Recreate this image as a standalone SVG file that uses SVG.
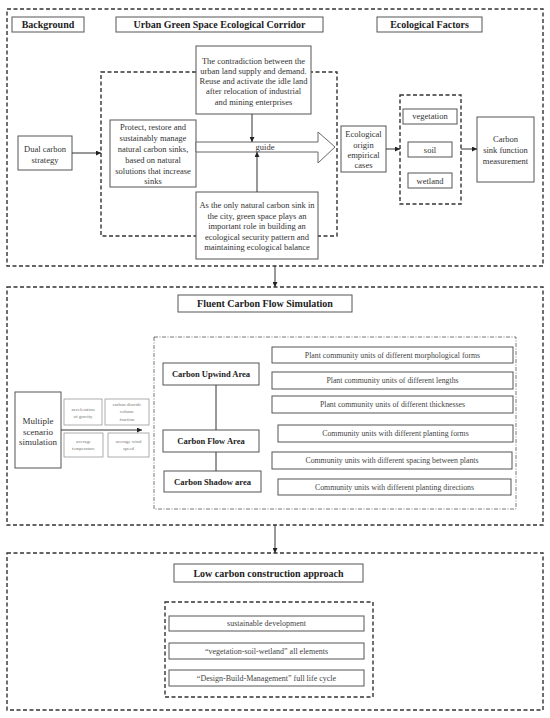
<svg xmlns="http://www.w3.org/2000/svg" width="550" height="718" viewBox="0 0 550 718">
<defs>
<marker id="ah" viewBox="0 0 8 8" refX="8" refY="4" markerWidth="5" markerHeight="5" orient="auto" markerUnits="userSpaceOnUse">
<path d="M0,0 L8,4 L0,8 Z" fill="#222"/>
</marker>
<style>
.sec{fill:none;stroke:#333;stroke-width:1.4;stroke-dasharray:4,2.5}
.dd{fill:none;stroke:#555;stroke-width:0.8;stroke-dasharray:4,1.5,1,1.5}
.box{fill:#fff;stroke:#555;stroke-width:1}
.sbox{fill:#fff;stroke:#999;stroke-width:0.8}
.hd{font-family:"Liberation Serif","Times New Roman",serif;font-weight:bold;font-size:10px;fill:#222;text-anchor:middle}
.bd{font-family:"Liberation Serif","Times New Roman",serif;font-weight:bold;font-size:8.5px;fill:#222;text-anchor:middle}
.t{font-family:"Liberation Serif","Times New Roman",serif;font-size:8.5px;fill:#333;text-anchor:middle}
.t2{font-family:"Liberation Serif","Times New Roman",serif;font-size:7.8px;fill:#444;text-anchor:middle}
.ts{font-family:"Liberation Serif","Times New Roman",serif;font-size:4.8px;fill:#777;text-anchor:middle}
.ln{fill:none;stroke:#333;stroke-width:1}
</style>
</defs>
<rect width="550" height="718" fill="#fff"/>

<g id="section1">
<rect class="sec" x="7" y="9" width="536" height="257"/>
<rect class="sec" x="101" y="72" width="236" height="164"/>
<rect class="sec" x="400" y="95" width="61" height="109"/>
</g>
<g id="hdr-background"><rect class="box" x="12" y="17" width="72" height="15"/><text class="hd" x="48" y="28">Background</text></g>
<g id="hdr-corridor"><rect class="box" x="116" y="17" width="207" height="15"/><text class="hd" x="219.5" y="28">Urban Green Space Ecological Corridor</text></g>
<g id="hdr-factors"><rect class="box" x="377" y="17" width="105" height="15"/><text class="hd" x="429.5" y="28">Ecological Factors</text></g>

<g id="dual-carbon"><rect class="box" x="18" y="136" width="54" height="34"/>
<text class="t" x="45" y="152">Dual carbon</text><text class="t" x="45" y="163">strategy</text></g>

<g id="protect"><rect class="box" x="110" y="120" width="86" height="67"/>
<text class="t" x="153" y="130">Protect, restore and</text>
<text class="t" x="153" y="141">sustainably manage</text>
<text class="t" x="153" y="152">natural carbon sinks,</text>
<text class="t" x="153" y="163">based on natural</text>
<text class="t" x="153" y="174">solutions that increase</text>
<text class="t" x="153" y="184">sinks</text></g>

<g id="contradiction"><rect class="box" x="196" y="46" width="115" height="68"/>
<text class="t" x="253.5" y="64">The contradiction between the</text>
<text class="t" x="253.5" y="74">urban land supply and demand.</text>
<text class="t" x="253.5" y="84">Reuse and activate the idle land</text>
<text class="t" x="253.5" y="94">after relocation of industrial</text>
<text class="t" x="253.5" y="105">and mining enterprises</text></g>

<g id="only-sink"><rect class="box" x="196" y="192" width="122" height="67"/>
<text class="t" x="257" y="208">As the only natural carbon sink in</text>
<text class="t" x="257" y="219">the city, green space plays an</text>
<text class="t" x="257" y="229">important role in building an</text>
<text class="t" x="257" y="240">ecological security pattern and</text>
<text class="t" x="257" y="250">maintaining ecological balance</text></g>

<g id="guide"><polygon points="196,142 318,142 318,132 335,147 318,163 318,152 196,152" fill="#fff" stroke="#666" stroke-width="1"/>
<text class="t" x="265" y="150">guide</text></g>

<g id="eco-origin"><rect class="box" x="341" y="126" width="45" height="46"/>
<text class="t" x="363.5" y="137">Ecological</text><text class="t" x="363.5" y="148">origin</text>
<text class="t" x="363.5" y="158">empirical</text><text class="t" x="363.5" y="168">cases</text></g>

<g id="vegetation"><rect class="box" x="403" y="109" width="54" height="15"/><text class="t" x="430" y="119">vegetation</text></g>
<g id="soil"><rect class="box" x="408" y="142" width="44" height="15"/><text class="t" x="430" y="152.5">soil</text></g>
<g id="wetland"><rect class="box" x="408" y="173" width="44" height="15"/><text class="t" x="430" y="183.5">wetland</text></g>

<g id="carbon-sink"><rect class="box" x="477" y="117" width="57" height="65"/>
<text class="t" x="505.5" y="142">Carbon</text><text class="t" x="505.5" y="153">sink function</text><text class="t" x="505.5" y="164">measurement</text></g>

<g id="section2">
<rect class="sec" x="7" y="287" width="536" height="238"/>
<rect class="dd" x="154" y="337" width="362" height="172"/>
</g>
<g id="hdr-fluent"><rect class="box" x="178" y="295" width="174" height="17"/><text class="hd" x="265" y="307">Fluent Carbon Flow Simulation</text></g>

<g id="multiple"><rect class="box" x="15" y="392" width="46" height="76"/>
<text class="t" x="38" y="424" style="font-size:9px">Multiple</text>
<text class="t" x="38" y="435" style="font-size:9px">scenario</text>
<text class="t" x="38" y="445" style="font-size:9px">simulation</text></g>

<g id="accel"><rect class="sbox" x="64" y="399" width="38" height="26"/>
<text class="ts" x="83" y="411">acceleration</text><text class="ts" x="83" y="418">of  gravity</text></g>
<g id="co2"><rect class="sbox" x="105" y="399" width="44" height="26"/>
<text class="ts" x="127" y="406">carbon dioxide</text><text class="ts" x="127" y="413">volume</text><text class="ts" x="127" y="421">fraction</text></g>
<g id="avg-temp"><rect class="sbox" x="64" y="433" width="39" height="24"/>
<text class="ts" x="83.5" y="443">average</text><text class="ts" x="83.5" y="450">temperature</text></g>
<g id="avg-wind"><rect class="sbox" x="108" y="433" width="41" height="24"/>
<text class="ts" x="128.5" y="443">average wind</text><text class="ts" x="128.5" y="450">speed</text></g>

<g id="upwind"><rect class="box" x="163" y="363" width="96" height="22"/><text class="bd" x="211" y="377">Carbon Upwind Area</text></g>
<g id="flow"><rect class="box" x="163" y="430" width="96" height="22"/><text class="bd" x="211" y="444">Carbon Flow Area</text></g>
<g id="shadow"><rect class="box" x="164" y="471" width="97" height="21"/><text class="bd" x="212.5" y="484.5">Carbon Shadow area</text></g>

<g id="u1"><rect class="box" x="272" y="347" width="241" height="16"/><text class="t2" x="392.5" y="358">Plant community units of different morphological forms</text></g>
<g id="u2"><rect class="box" x="272" y="372" width="241" height="17"/><text class="t2" x="392.5" y="383">Plant community units of different lengths</text></g>
<g id="u3"><rect class="box" x="272" y="396" width="241" height="17"/><text class="t2" x="392.5" y="407">Plant community units of different thicknesses</text></g>
<g id="u4"><rect class="box" x="278" y="425" width="235" height="17"/><text class="t2" x="395.5" y="436">Community units with different planting forms</text></g>
<g id="u5"><rect class="box" x="272" y="452" width="240" height="17"/><text class="t2" x="392" y="463">Community units with different spacing between plants</text></g>
<g id="u6"><rect class="box" x="278" y="479" width="233" height="16"/><text class="t2" x="394.5" y="490">Community units with different planting directions</text></g>

<g id="section3">
<rect class="sec" x="7" y="553" width="536" height="157"/>
<rect class="sec" x="165" y="602" width="208" height="95"/>
</g>
<g id="hdr-low"><rect class="box" x="174" y="564" width="189" height="18"/><text class="hd" x="268.5" y="576.5">Low carbon construction approach</text></g>
<g id="sustainable"><rect class="box" x="169" y="616" width="195" height="15"/><text class="t2" x="266.5" y="626" style="font-size:8px">sustainable development</text></g>
<g id="vsw"><rect class="box" x="169" y="643" width="195" height="16"/><text class="t2" x="266.5" y="654" style="font-size:8px">“vegetation-soil-wetland” all elements</text></g>
<g id="dbm"><rect class="box" x="169" y="670" width="195" height="16"/><text class="t2" x="266.5" y="681" style="font-size:8px">“Design-Build-Management” full life cycle</text></g>

<g id="connectors">
<line class="ln" x1="72" y1="153" x2="101" y2="153" marker-end="url(#ah)"/>
<line class="ln" x1="252" y1="114" x2="252" y2="142" marker-end="url(#ah)"/>
<line class="ln" x1="257" y1="192" x2="257" y2="152" marker-end="url(#ah)"/>
<line class="ln" x1="386" y1="149" x2="400" y2="149" marker-end="url(#ah)"/>
<line class="ln" x1="461" y1="149" x2="477" y2="149" marker-end="url(#ah)"/>
<line class="ln" x1="275" y1="266" x2="275" y2="287" marker-end="url(#ah)"/>
<line class="ln" x1="61" y1="430" x2="142" y2="430" marker-end="url(#ah)"/>
<line class="ln" x1="216" y1="385" x2="216" y2="430" stroke="#666"/>
<line class="ln" x1="216" y1="452" x2="216" y2="471" stroke="#666"/>
<line class="ln" x1="275" y1="525" x2="275" y2="553" marker-end="url(#ah)"/>
</g>
</svg>
